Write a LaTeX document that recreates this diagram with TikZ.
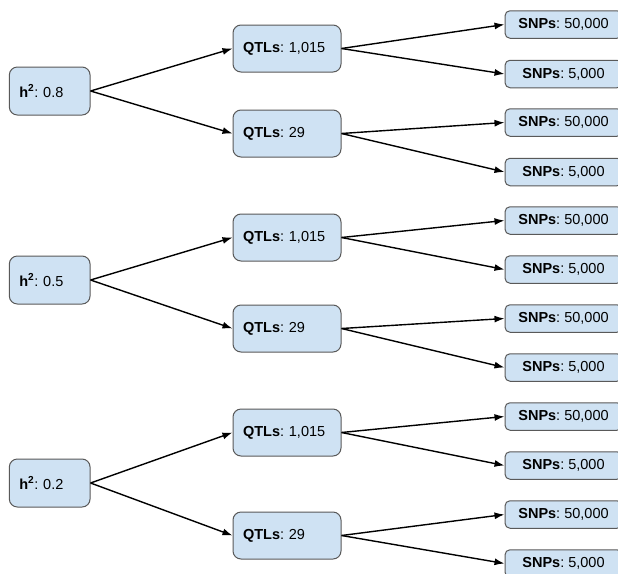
\documentclass[tikz,border=0pt]{standalone}
\usepackage{fontspec}
\setmainfont{Liberation Sans}
\usetikzlibrary{arrows.meta}
\definecolor{boxfill}{HTML}{CFE2F3}
\definecolor{boxline}{HTML}{595959}
\frenchspacing
\begin{document}
\begin{tikzpicture}[x=1pt,y=-1pt,
  base/.style={draw=boxline, fill=boxfill, line width=1pt, font=\fontsize{14.5}{17}\selectfont},
  hbox/.style={base, rounded corners=8pt, minimum height=48pt, text width=60.7pt, inner xsep=10pt, inner ysep=0pt, align=left},
  qbox/.style={base, rounded corners=8pt, minimum height=47pt, text width=88pt, inner xsep=10pt, inner ysep=0pt, align=left},
  sbox/.style={base, rounded corners=5pt, minimum height=27.5pt, minimum width=117pt, inner sep=0pt},
  conn/.style={line width=1.4pt, -{Latex[length=10pt,width=7pt]}}
]
\useasboundingbox (0,0) rectangle (618,573);
\clip (0,0) rectangle (618,573);

% top group
\node[hbox] (h1) at (49.7,91) {\textbf{h\textsuperscript{2}}: 0.8};
\node[qbox] (q1a) at (287,48.5) {\textbf{QTLs}: 1,015};
\node[qbox] (q1b) at (287,133.5) {\textbf{QTLs}: 29};
\node[sbox] (s1a) at (563.5,24.5) {\textbf{SNPs}: 50,000};
\node[sbox] (s1b) at (563.5,74) {\textbf{SNPs}: 5,000};
\node[sbox] (s1c) at (563.5,122.5) {\textbf{SNPs}: 50,000};
\node[sbox] (s1d) at (563.5,172) {\textbf{SNPs}: 5,000};

% middle group
\node[hbox] (h2) at (49.7,280) {\textbf{h\textsuperscript{2}}: 0.5};
\node[qbox] (q2a) at (287,237.5) {\textbf{QTLs}: 1,015};
\node[qbox] (q2b) at (287,328.5) {\textbf{QTLs}: 29};
\node[sbox] (s2a) at (563.5,220.5) {\textbf{SNPs}: 50,000};
\node[sbox] (s2b) at (563.5,269.5) {\textbf{SNPs}: 5,000};
\node[sbox] (s2c) at (563.5,318.5) {\textbf{SNPs}: 50,000};
\node[sbox] (s2d) at (563.5,367.5) {\textbf{SNPs}: 5,000};

% bottom group
\node[hbox] (h3) at (49.7,483) {\textbf{h\textsuperscript{2}}: 0.2};
\node[qbox] (q3a) at (287,432.5) {\textbf{QTLs}: 1,015};
\node[qbox] (q3b) at (287,535.5) {\textbf{QTLs}: 29};
\node[sbox] (s3a) at (563.5,416.5) {\textbf{SNPs}: 50,000};
\node[sbox] (s3b) at (563.5,465.5) {\textbf{SNPs}: 5,000};
\node[sbox] (s3c) at (563.5,514.5) {\textbf{SNPs}: 50,000};
\node[sbox] (s3d) at (563.5,563.5) {\textbf{SNPs}: 5,000};

% connectors
\foreach \g in {1,2,3}{
  \draw[conn] (h\g.east) -- (q\g a.west);
  \draw[conn] (h\g.east) -- (q\g b.west);
  \draw[conn] (q\g a.east) -- (s\g a.west);
  \draw[conn] (q\g a.east) -- (s\g b.west);
  \draw[conn] (q\g b.east) -- (s\g c.west);
  \draw[conn] (q\g b.east) -- (s\g d.west);
}
\end{tikzpicture}
\end{document}
